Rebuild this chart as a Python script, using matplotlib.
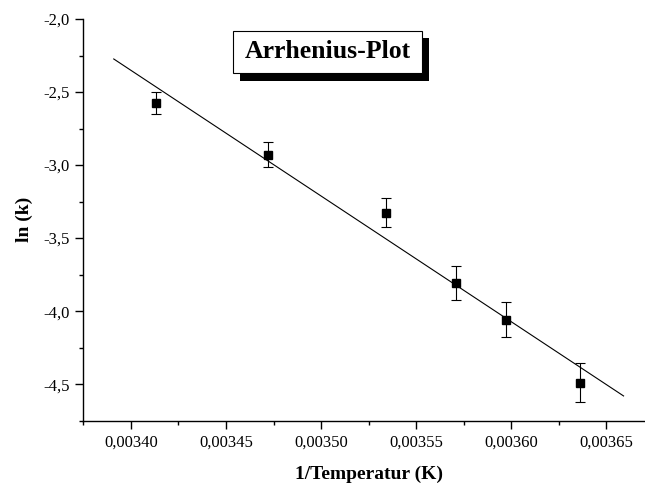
import matplotlib.pyplot as plt
from matplotlib.patches import Rectangle
from matplotlib.ticker import MultipleLocator, FuncFormatter
import numpy as np

# data
inv_temp = [0.003413, 0.003472, 0.003534, 0.003571, 0.003597, 0.003636]
ln_k = [-2.578, -2.928, -3.326, -3.809, -4.060, -4.490]
ln_k_err = [0.075, 0.087, 0.100, 0.115, 0.120, 0.134]
fit_range = [0.003391, 0.003659]

plt.rcParams['font.family'] = ['Liberation Serif', 'DejaVu Serif']

W, H = 645, 486
fig = plt.figure(figsize=(W / 100, H / 100), dpi=100)
ax = fig.add_axes([83.3 / W, 1 - 420.7 / H, (654 - 83.3) / W, (420.7 - 19) / H])

ax.errorbar(inv_temp, ln_k, yerr=ln_k_err, fmt='s', color='black', ms=6,
            elinewidth=0.8, capsize=3.3, capthick=0.8, zorder=3)

slope, icpt = np.polyfit(inv_temp, ln_k, 1)
xf = np.array(fit_range)
ax.plot(xf, slope * xf + icpt, color='black', lw=0.8)

ax.set_xlim(0.003375, 0.003675)
ax.set_ylim(-4.75, -2.0)
ax.xaxis.set_major_locator(MultipleLocator(0.00005))
ax.xaxis.set_minor_locator(MultipleLocator(0.000025))
ax.yaxis.set_major_locator(MultipleLocator(0.5))
ax.yaxis.set_minor_locator(MultipleLocator(0.25))
ax.xaxis.set_major_formatter(FuncFormatter(lambda v, p: f'{v:.5f}'.replace('.', ',')))
ax.yaxis.set_major_formatter(FuncFormatter(lambda v, p: f'{v:.1f}'.replace('.', ',')))

for s in ['top', 'right']:
    ax.spines[s].set_visible(False)
for s in ['left', 'bottom']:
    ax.spines[s].set_linewidth(1.0)
ax.tick_params(which='major', direction='out', length=6, width=1.0, labelsize=12, pad=4)
ax.tick_params(which='minor', direction='out', length=3, width=1.0)

ax.set_xlabel('1/Temperatur (K)', fontsize=14, fontweight='bold')
ax.set_ylabel('ln (k)', fontsize=14, fontweight='bold')
ax.xaxis.set_label_coords(0.5, -0.112)
ax.yaxis.set_label_coords(-0.088, 0.5)

# title box with drop shadow
bx, by, bw, bh = 233.3, 30.7, 188.4, 42.6
fig.patches.append(Rectangle(((bx + 7) / W, 1 - (by + bh + 7.5) / H), bw / W, bh / H,
                             transform=fig.transFigure, facecolor='black', edgecolor='none'))
fig.patches.append(Rectangle((bx / W, 1 - (by + bh) / H), bw / W, bh / H,
                             transform=fig.transFigure, facecolor='white',
                             edgecolor='black', lw=0.8))
fig.text((bx + bw / 2) / W, 1 - (by + bh / 2) / H, 'Arrhenius-Plot', fontsize=18.5,
         fontweight='bold', ha='center', va='center')

fig.savefig('out.png', dpi=100)
